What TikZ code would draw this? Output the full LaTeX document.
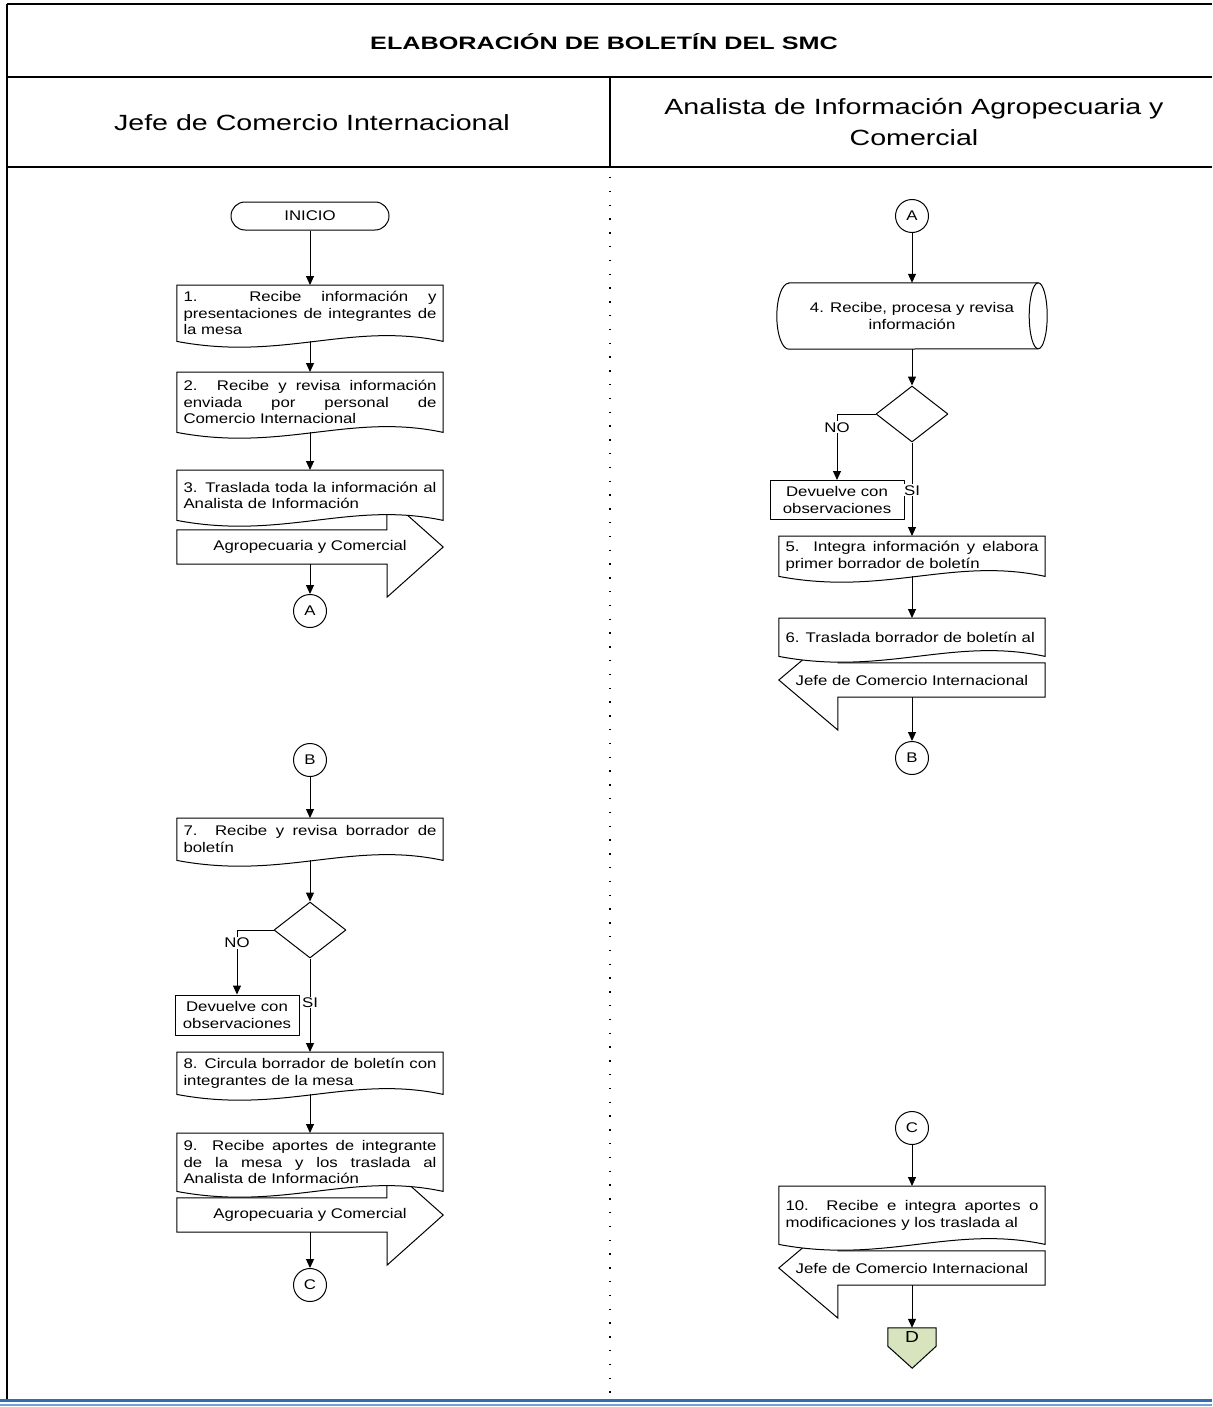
\documentclass[tikz,border=0pt]{standalone}
\usepackage{fontspec}
\setmainfont{Liberation Sans}[FakeStretch=1.2,WordSpace={1,2,0}]
\newfontfamily\headfont{Liberation Sans}[FakeStretch=1.3]
\newfontfamily\titlefont{Liberation Sans}[FakeStretch=1.4]
\usetikzlibrary{shapes.geometric,arrows.meta}
\pgfdeclarelayer{bg}
\pgfsetlayers{bg,main}
\definecolor{offgreen}{RGB}{215,228,189}
\definecolor{rulerblue}{RGB}{46,110,182}
\hyphenpenalty=10000

% document symbol: straight top, wavy bottom
\newcommand\docshape[1]{%
  \draw[outline] (#1.north west) -- (#1.north east) -- (#1.south east)
    .. controls +(-93,-20) and +(106,20) .. (#1.south west) -- cycle;}

\begin{document}
\begin{tikzpicture}[x=1pt,y=-1pt,line join=round,
  every node/.style={font=\fontsize{14}{16.5}\selectfont},
  outline/.style={draw,line width=1pt,fill=white},
  doc/.style={anchor=north,text width=253pt,inner xsep=6.5pt,inner ysep=3pt,align=justify},
  flow/.style={-{Triangle[length=9pt,width=8pt]},line width=1pt},
  conn/.style={circle,draw,line width=1pt,fill=white,minimum size=33pt,inner sep=0pt},
  dec/.style={diamond,draw,line width=1pt,fill=white,minimum width=72pt,minimum height=56pt,inner sep=0pt},
  note/.style={rectangle,draw,line width=1pt,fill=white,align=center,inner sep=2pt},
  tag/.style={fill=white,inner sep=1pt},
  lane/.style={line width=2pt}]
  \useasboundingbox (0,0) rectangle (1212,1407);

  % frame and lanes
  \draw[lane] (7,4) -- (1212,4);
  \draw[lane] (7,77) -- (1212,77);
  \draw[lane] (7,167) -- (1212,167);
  \draw[lane] (7,4) -- (7,1399);
  \draw[lane] (610,77) -- (610,167);
  \draw[line width=1.3pt,dash pattern=on 1.3pt off 12.5pt] (610,177) -- (610,1396);
  \draw[rulerblue,line width=2.5pt] (0,1400.5) -- (1212,1400.5);
  \draw[rulerblue!65,line width=1.5pt] (0,1405) -- (1212,1405);

  \node[font={\titlefont\bfseries\fontsize{18}{20}\selectfont}] (title) at (604,42) {ELABORACIÓN DE BOLETÍN DEL SMC};
  \node[font={\headfont\fontsize{22}{31}\selectfont}] (jefe) at (312,123) {Jefe de Comercio Internacional};
  \node[font={\headfont\fontsize{22}{31}\selectfont},align=center] (analista) at (914,122) {Analista de Información Agropecuaria y\\Comercial};

  % left lane
  \node[draw,line width=1pt,rounded corners=14pt,minimum width=158pt,minimum height=28pt] (ini) at (310,216) {INICIO};
  \node[doc,minimum height=56pt] (d1) at (310,285) {1. Recibe información y presentaciones de integrantes de la mesa};
  \node[doc,minimum height=60pt] (d2) at (310,372) {2. Recibe y revisa información enviada por personal de Comercio Internacional};
  \node[doc,minimum height=50pt] (d3) at (310,470) {3. Traslada toda la información al Analista de Información};
  \node[minimum width=266pt,minimum height=34pt] (a3) at (310,547) {Agropecuaria y Comercial};
  \node[conn] (ca1) at (310,611) {A};
  \node[conn] (cb1) at (310,760) {B};
  \node[doc,minimum height=42pt] (d7) at (310,818) {7. Recibe y revisa borrador de boletín};
  \node[dec] (q1) at (310,930) {};
  \node[note,minimum width=124pt,minimum height=40pt] (r1) at (237,1015) {Devuelve con\\observaciones};
  \node[doc,minimum height=42pt] (d8) at (310,1052) {8. Circula borrador de boletín con integrantes de la mesa};
  \node[doc,minimum height=58pt] (d9) at (310,1133) {9. Recibe aportes de integrante de la mesa y los traslada al Analista de Información};
  \node[minimum width=266pt,minimum height=34pt] (a9) at (310,1215) {Agropecuaria y Comercial};
  \node[conn] (cc1) at (310,1285) {C};

  % right lane
  \node[conn] (ca2) at (912,216) {A};
  \node[minimum width=270pt,minimum height=66pt,align=center] (s4) at (912,316) {4. Recibe, procesa y revisa\\información};
  \node[dec] (q2) at (912,414) {};
  \node[note,minimum width=134pt,minimum height=39pt] (r2) at (837,500) {Devuelve con\\observaciones};
  \node[doc,minimum height=40pt] (d5) at (912,536) {5. Integra información y elabora primer borrador de boletín};
  \node[doc,minimum height=38pt] (d6) at (912,618) {6. Traslada borrador de boletín al};
  \node[minimum width=266pt,minimum height=34pt] (a6) at (912,680) {Jefe de Comercio Internacional};
  \node[conn] (cb2) at (912,758) {B};
  \node[conn] (cc2) at (912,1128) {C};
  \node[doc,minimum height=58pt] (d10) at (912,1186) {10. Recibe e integra aportes o modificaciones y los traslada al};
  \node[minimum width=266pt,minimum height=34pt] (a10) at (912,1268) {Jefe de Comercio Internacional};
  \node[minimum width=48pt,minimum height=18pt,inner sep=0pt,font=\fontsize{16}{18}\selectfont] (offd) at (912,1337) {D};

  \begin{pgfonlayer}{bg}
    % block arrows under the document symbols
    \draw[outline] (a3.north west) -- ++(210,0) -- ++(0,-33) -- (a3.east) -- ++(-56,50) -- ++(0,-33) -- (a3.south west) -- cycle;
    \draw[outline] (a9.north west) -- ++(210,0) -- ++(0,-33) -- (a9.east) -- ++(-56,50) -- ++(0,-33) -- (a9.south west) -- cycle;
    \draw[outline] (a6.north east) -- ++(-207,0) -- ++(0,-33) -- (a6.west) -- ++(59,50) -- ++(0,-33) -- (a6.south east) -- cycle;
    \draw[outline] (a10.north east) -- ++(-207,0) -- ++(0,-33) -- (a10.west) -- ++(59,50) -- ++(0,-33) -- (a10.south east) -- cycle;
    \docshape{d1} \docshape{d2} \docshape{d3} \docshape{d7} \docshape{d8} \docshape{d9}
    \docshape{d5} \docshape{d6} \docshape{d10}
    % stored data drum
    \draw[outline] ([xshift=12pt]s4.north west) -- ([xshift=-9pt]s4.north east)
      arc[start angle=90,end angle=-90,x radius=9pt,y radius=33pt]
      -- ([xshift=12pt]s4.south west)
      arc[start angle=270,end angle=90,x radius=12pt,y radius=33pt] -- cycle;
    \draw[line width=1pt] ([xshift=-9pt]s4.north east) arc[start angle=90,end angle=270,x radius=9pt,y radius=33pt];
    % off-page connector
    \draw[outline,fill=offgreen] (offd.north west) -- (offd.north east) -- (offd.south east) -- ++(-24,22) -- (offd.south west) -- cycle;
  \end{pgfonlayer}

  % connectors
  \draw[flow] (ini.south) -- (d1.north);
  \draw[flow] (d1.south) -- (d2.north);
  \draw[flow] (d2.south) -- (d3.north);
  \draw[flow] (a3.south) -- (ca1.north);
  \draw[flow] (cb1.south) -- (d7.north);
  \draw[flow] (d7.south) -- (q1.north);
  \draw[flow] (q1.west) -| node[tag,pos=0.6] {NO} (r1.north);
  \draw[flow] (q1.south) -- node[tag,pos=0.47] {SI} (d8.north);
  \draw[flow] (d8.south) -- (d9.north);
  \draw[flow] (a9.south) -- (cc1.north);

  \draw[flow] (ca2.south) -- (s4.north);
  \draw[flow] (s4.south) -- (q2.north);
  \draw[flow] (q2.west) -| node[tag,pos=0.6] {NO} (r2.north);
  \draw[flow] (q2.south) -- node[tag,pos=0.51] {SI} (d5.north);
  \draw[flow] (d5.south) -- (d6.north);
  \draw[flow] (a6.south) -- (cb2.north);
  \draw[flow] (cc2.south) -- (d10.north);
  \draw[flow] (a10.south) -- (offd.north);
\end{tikzpicture}
\end{document}
